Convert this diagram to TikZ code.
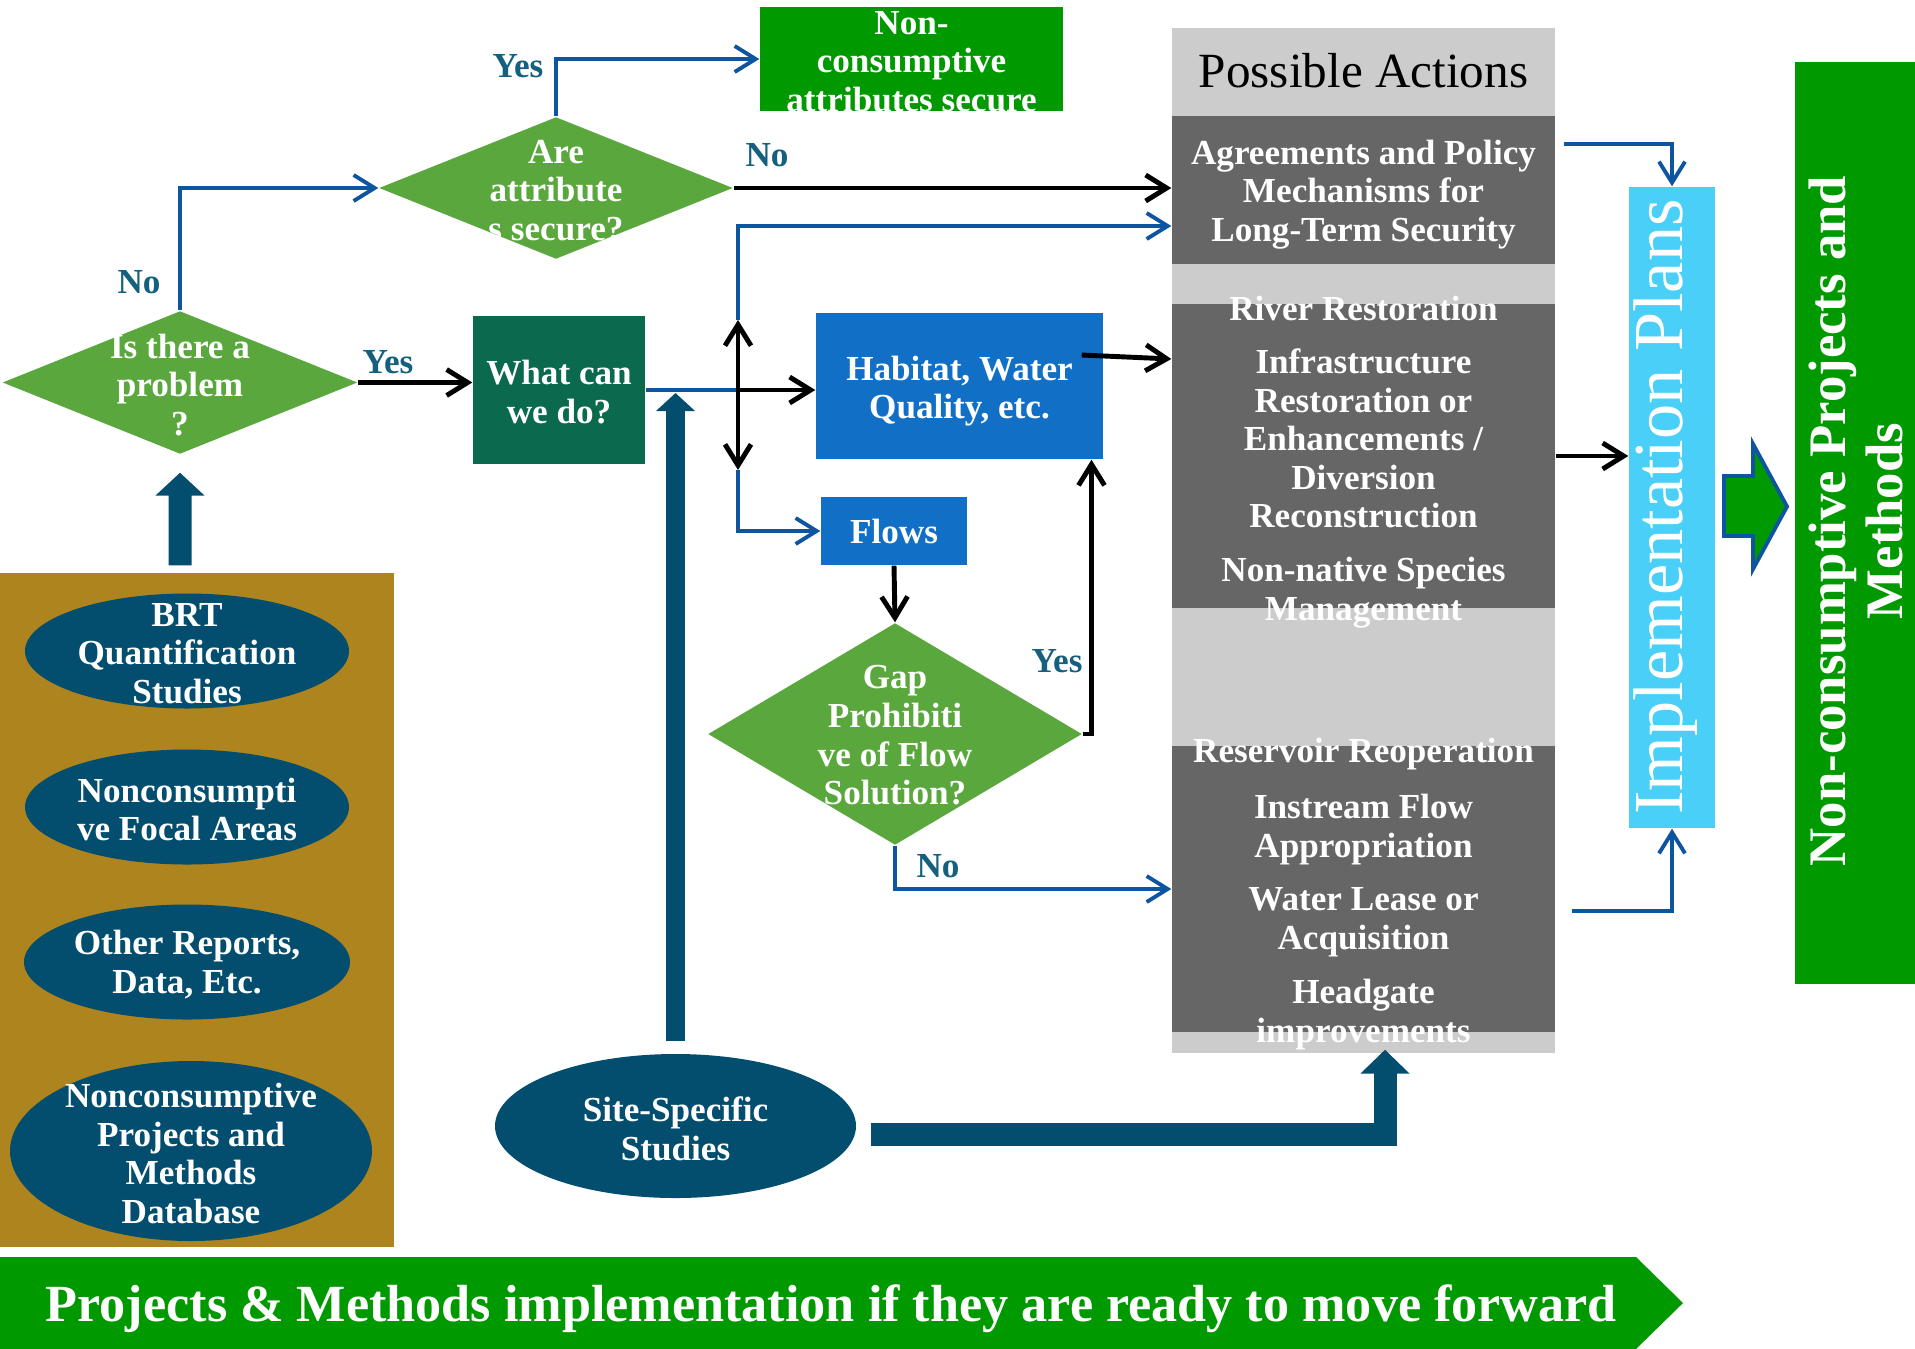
\documentclass[tikz,border=0pt]{standalone}
\usepackage{fontspec}
\setmainfont{Liberation Serif}
\usetikzlibrary{shapes.geometric,arrows.meta}

\definecolor{leaf}{HTML}{5AA83D}
\definecolor{forest}{HTML}{0B6A4E}
\definecolor{sky}{HTML}{1170C6}
\definecolor{petrol}{HTML}{034E6E}
\definecolor{gold}{HTML}{AD841E}
\definecolor{grass}{HTML}{009900}
\definecolor{cyanbar}{HTML}{4AD0F8}
\definecolor{linkblue}{HTML}{0D55A0}
\definecolor{tagteal}{HTML}{14607E}
\definecolor{darkgrey}{HTML}{666666}
\definecolor{lightgrey}{HTML}{CCCCCC}

\tikzset{
  >={Straight Barb[length=2.1mm,width=2.6mm]},
  words/.style={text=white, align=center, font=\bfseries\fontsize{10}{11}\selectfont},
  tile/.style={rectangle, inner sep=0pt, words},
  decision/.style={diamond, fill=leaf, inner sep=0pt},
  source/.style={ellipse, fill=petrol, inner sep=0pt, minimum width=3.24cm, minimum height=1.15cm},
  section/.style={tile, fill=darkgrey, minimum width=3.83cm},
  tag/.style={text=tagteal, font=\bfseries\fontsize{10}{12}\selectfont},
  blk/.style={black, line width=1.4pt, ->},
  blu/.style={linkblue, line width=1.1pt, ->},
  fat/.style={petrol, line width=2.3mm},
}

\begin{document}
\begin{tikzpicture}
	\fill[white] (0,0) rectangle (19.15,-13.48);
	\useasboundingbox (0,0) rectangle (19.15,-13.48);

	% sources on the left
	\node (sources) at (1.97,-9.10) [rectangle, fill=gold, minimum width=3.94cm, minimum height=6.74cm, inner sep=0pt] {};
	\node (brt) at (1.87,-6.51) [source] {};
	\node at ([yshift=-0.25mm]brt) [words] {BRT\\Quantification\\Studies};
	\node (focal) at (1.87,-8.07) [source] {};
	\node at ([yshift=-0.25mm]focal) [words] {Nonconsumpti\\ve Focal Areas};
	\node (other) at (1.87,-9.62) [source, minimum width=3.26cm] {};
	\node at ([yshift=-0.25mm]other) [words] {Other Reports,\\Data, Etc.};
	\node (dbase) at (1.91,-11.51) [source, minimum width=3.62cm, minimum height=1.80cm] {};
	\node at ([yshift=-0.25mm]dbase) [words] {Nonconsumptive\\Projects and\\Methods\\Database};
	\node (site) at (6.755,-11.26) [source, minimum width=3.61cm, minimum height=1.44cm] {};
	\node at ([yshift=-0.25mm]site) [words] {Site-Specific\\Studies};

	% questions
	\node (prob) at (1.80,-3.825) [decision, minimum width=3.55cm, minimum height=1.43cm] {};
	\node at (1.80,-3.85) [words] {Is there a\\problem\\?};
	\node (attr) at (5.56,-1.88) [decision, minimum width=3.54cm, minimum height=1.42cm] {};
	\node at ([yshift=-0.25mm]attr) [words] {Are\\attribute\\s secure?};
	\node (gap) at (8.95,-7.34) [decision, minimum width=3.74cm, minimum height=2.22cm] {};
	\node at ([yshift=-0.15mm]gap) [words] {Gap\\Prohibiti\\ve of Flow\\Solution?};

	\node (secure) at (9.115,-0.59) [tile, fill=grass, minimum width=3.03cm, minimum height=1.04cm] {};
	\node at ([yshift=-0.25mm]secure) [words] {Non-\\consumptive\\attributes secure};
	\node (what) at (5.59,-3.90) [tile, fill=forest, minimum width=1.72cm, minimum height=1.48cm] {};
	\node at ([yshift=-0.2mm]what) [words] {What can\\we do?};
	\node (hab) at (9.595,-3.86) [tile, fill=sky, minimum width=2.87cm, minimum height=1.46cm] {};
	\node at ([yshift=-0.5mm]hab) [words] {Habitat, Water\\Quality, etc.};
	\node (flows) at (8.94,-5.31) [tile, fill=sky, minimum width=1.46cm, minimum height=0.68cm] {Flows};

	% possible actions
	\node (actions) at (13.635,-5.405) [rectangle, fill=lightgrey, minimum width=3.83cm, minimum height=10.25cm, inner sep=0pt] {};
	\node at (13.635,-0.71) [font=\fontsize{14}{16}\selectfont] {Possible Actions};
	\node (agree) at (13.635,-1.90) [section, minimum height=1.48cm] {};
	\node at (13.635,-1.945) [words] {Agreements and Policy\\Mechanisms for\\Long-Term Security};
	\node (river) at (13.635,-4.56) [section, minimum height=3.04cm] {};
	\node (reservoir) at (13.635,-8.89) [section, minimum height=2.86cm] {};
	\node at (13.635,-3.08) [words] {River Restoration};
	\node at (13.635,-4.385) [words] {Infrastructure\\Restoration or\\Enhancements /\\Diversion\\Reconstruction};
	\node at (13.635,-5.925) [words] {Non-native Species\\Management};
	\node at (13.635,-7.545) [words] {Reservoir Reoperation};
	\node at (13.635,-8.295) [words] {Instream Flow\\Appropriation};
	\node at (13.635,-9.22) [words] {Water Lease or\\Acquisition};
	\node at (13.635,-10.145) [words] {Headgate\\improvements};

	\node (impl) at (16.72,-5.075) [rectangle, fill=cyanbar, minimum width=0.86cm, minimum height=6.41cm, inner sep=0pt] {};
	\node at (16.66,-5.07) [rotate=90, text=white, font=\fontsize{20}{22}\selectfont] {Implementation Plans};
	\node (ncpm) at (18.55,-5.23) [rectangle, fill=grass, minimum width=1.20cm, minimum height=9.22cm, inner sep=0pt] {};
	\node at (18.56,-5.21) [rotate=90, words, font=\bfseries\fontsize{15}{16}\selectfont] {Non-consumptive Projects and\\Methods};
	\draw[linkblue, line width=1.1pt, fill=grass] (17.24,-4.76) -- (17.53,-4.76) -- (17.53,-4.44) -- (17.87,-5.065) -- (17.53,-5.69) -- (17.53,-5.36) -- (17.24,-5.36) -- cycle;

	% banner
	\fill[grass] (0,-12.57) -- (16.36,-12.57) -- (16.83,-13.03) -- (16.36,-13.49) -- (0,-13.49) -- cycle;
	\node (banner) at (0.45,-13.09) [anchor=west, inner sep=0pt, words, font=\bfseries\fontsize{14.85}{16}\selectfont] {Projects \& Methods implementation if they are ready to move forward};

	% labels
	\node (yesA) at (5.18,-0.66) [tag] {Yes};
	\node (noA) at (7.67,-1.55) [tag] {No};
	\node (noP) at (1.39,-2.82) [tag] {No};
	\node (yesP) at (3.88,-3.62) [tag] {Yes};
	\node (yesG) at (10.57,-6.61) [tag] {Yes};
	\node (noG) at (9.38,-8.66) [tag] {No};

	\coordinate (hub) at (7.38,-3.90);
	\coordinate (up) at (7.38,-3.20);
	\coordinate (dn) at (7.38,-4.70);

	\draw[blu] (attr.north) |- (secure.west);
	\draw[blu] (prob.north) |- (attr.west);
	\draw[linkblue, line width=1.1pt] (what.east) -- (hub);
	\draw[blu] (up) |- ([yshift=-3.6mm]agree.west);
	\draw[blu] (dn) |- (flows.west);
	\draw[blu] (gap.south) |- (reservoir.west);
	\draw[blu] ([xshift=0.8mm,yshift=4.6mm]agree.east) -| (impl.north);
	\draw[blu] ([xshift=1.6mm,yshift=-2.2mm]reservoir.east) -| (impl.south);

	\draw[blk] (attr.east) -- (attr.east -| agree.west);
	\draw[blk] (prob.east) -- (prob.east -| what.west);
	\draw[blk] (hub) -- (hub -| hab.west);
	\draw[blk, <->] (up) -- (dn);
	\draw[blk] (flows.south) -- (gap.north);
	\draw[blk] (gap.east) -| ([xshift=13.2mm]hab.south);
	\draw[blk] ([xshift=-2.2mm,yshift=3.1mm]hab.east) -- ([yshift=9.7mm]river.west);
	\draw[blk] (river.east) -- (river.east -| impl.west);

	\draw[fat, -{Triangle[length=2.3mm,width=4.8mm]}] ([xshift=-1.7mm,yshift=0.7mm]sources.north) -- ([yshift=-1.8mm]prob.south);
	\draw[fat, line width=1.9mm, -{Triangle[length=1.8mm,width=3.8mm]}] ([yshift=1.2mm]site.north) -- ([yshift=-0.3mm]site.north |- what.east);
	\draw[fat, -{Triangle[length=2.4mm,width=4.8mm]}] ([xshift=1.4mm,yshift=-0.85mm]site.east) -| ([xshift=2.15mm,yshift=0.4mm]actions.south);
\end{tikzpicture}
\end{document}
